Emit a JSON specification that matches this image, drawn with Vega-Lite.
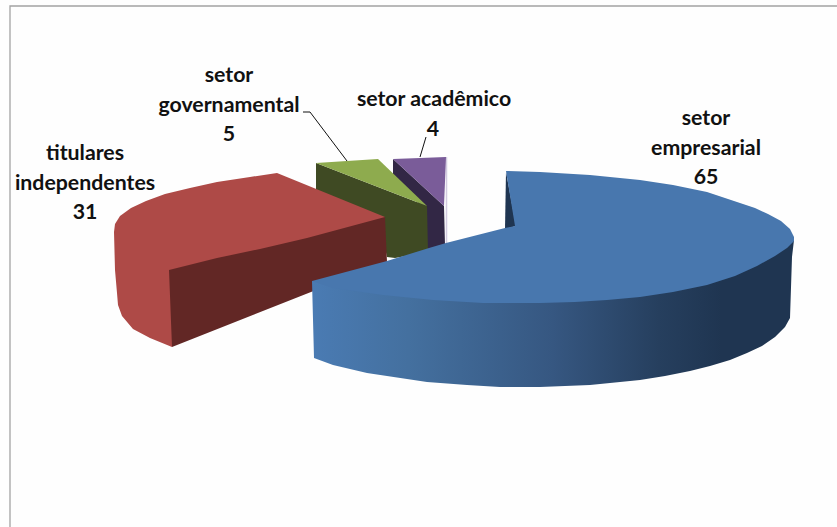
{
  "$schema": "https://vega.github.io/schema/vega-lite/v6.json",
  "width": 837,
  "height": 527,
  "padding": 0,
  "autosize": "none",
  "background": "#fefefe",
  "view": {"stroke": null},
  "datasets": {
    "frame": [
      {"seq": 1, "x": 10, "y": 527},
      {"seq": 2, "x": 10, "y": 6},
      {"seq": 3, "x": 837, "y": 6}
    ],
    "faces": [
      {"face": "academico-corte", "slice": "setor acadêmico", "value": 4, "seq": 1, "x": 393, "y": 159},
      {"face": "academico-corte", "slice": "setor acadêmico", "value": 4, "seq": 2, "x": 444, "y": 206},
      {"face": "academico-corte", "slice": "setor acadêmico", "value": 4, "seq": 3, "x": 445, "y": 245},
      {"face": "academico-corte", "slice": "setor acadêmico", "value": 4, "seq": 4, "x": 426, "y": 251},
      {"face": "academico-corte", "slice": "setor acadêmico", "value": 4, "seq": 5, "x": 426, "y": 211},
      {"face": "academico-corte", "slice": "setor acadêmico", "value": 4, "seq": 6, "x": 393, "y": 178},
      {"face": "academico-topo", "slice": "setor acadêmico", "value": 4, "seq": 7, "x": 393, "y": 159},
      {"face": "academico-topo", "slice": "setor acadêmico", "value": 4, "seq": 8, "x": 420, "y": 158},
      {"face": "academico-topo", "slice": "setor acadêmico", "value": 4, "seq": 9, "x": 446, "y": 157},
      {"face": "academico-topo", "slice": "setor acadêmico", "value": 4, "seq": 10, "x": 444, "y": 206},
      {"face": "governamental-corte", "slice": "setor governamental", "value": 5, "seq": 11, "x": 316, "y": 163},
      {"face": "governamental-corte", "slice": "setor governamental", "value": 5, "seq": 12, "x": 427, "y": 206},
      {"face": "governamental-corte", "slice": "setor governamental", "value": 5, "seq": 13, "x": 428, "y": 252},
      {"face": "governamental-corte", "slice": "setor governamental", "value": 5, "seq": 14, "x": 395, "y": 258},
      {"face": "governamental-corte", "slice": "setor governamental", "value": 5, "seq": 15, "x": 387, "y": 257},
      {"face": "governamental-corte", "slice": "setor governamental", "value": 5, "seq": 16, "x": 380, "y": 225},
      {"face": "governamental-corte", "slice": "setor governamental", "value": 5, "seq": 17, "x": 316, "y": 196},
      {"face": "governamental-topo", "slice": "setor governamental", "value": 5, "seq": 18, "x": 316, "y": 163},
      {"face": "governamental-topo", "slice": "setor governamental", "value": 5, "seq": 19, "x": 347, "y": 161},
      {"face": "governamental-topo", "slice": "setor governamental", "value": 5, "seq": 20, "x": 378, "y": 159},
      {"face": "governamental-topo", "slice": "setor governamental", "value": 5, "seq": 21, "x": 427, "y": 206},
      {"face": "titulares-lado", "slice": "titulares independentes", "value": 31, "seq": 22, "x": 277, "y": 173},
      {"face": "titulares-lado", "slice": "titulares independentes", "value": 31, "seq": 23, "x": 250, "y": 177},
      {"face": "titulares-lado", "slice": "titulares independentes", "value": 31, "seq": 24, "x": 217, "y": 182},
      {"face": "titulares-lado", "slice": "titulares independentes", "value": 31, "seq": 25, "x": 190, "y": 188},
      {"face": "titulares-lado", "slice": "titulares independentes", "value": 31, "seq": 26, "x": 165, "y": 194},
      {"face": "titulares-lado", "slice": "titulares independentes", "value": 31, "seq": 27, "x": 146, "y": 201},
      {"face": "titulares-lado", "slice": "titulares independentes", "value": 31, "seq": 28, "x": 131, "y": 208},
      {"face": "titulares-lado", "slice": "titulares independentes", "value": 31, "seq": 29, "x": 120, "y": 216},
      {"face": "titulares-lado", "slice": "titulares independentes", "value": 31, "seq": 30, "x": 115, "y": 224},
      {"face": "titulares-lado", "slice": "titulares independentes", "value": 31, "seq": 31, "x": 114, "y": 232},
      {"face": "titulares-lado", "slice": "titulares independentes", "value": 31, "seq": 32, "x": 115, "y": 270},
      {"face": "titulares-lado", "slice": "titulares independentes", "value": 31, "seq": 33, "x": 117, "y": 293},
      {"face": "titulares-lado", "slice": "titulares independentes", "value": 31, "seq": 34, "x": 118, "y": 305},
      {"face": "titulares-lado", "slice": "titulares independentes", "value": 31, "seq": 35, "x": 122, "y": 316},
      {"face": "titulares-lado", "slice": "titulares independentes", "value": 31, "seq": 36, "x": 133, "y": 329},
      {"face": "titulares-lado", "slice": "titulares independentes", "value": 31, "seq": 37, "x": 150, "y": 338},
      {"face": "titulares-lado", "slice": "titulares independentes", "value": 31, "seq": 38, "x": 172, "y": 347},
      {"face": "titulares-lado", "slice": "titulares independentes", "value": 31, "seq": 39, "x": 175, "y": 275},
      {"face": "titulares-lado", "slice": "titulares independentes", "value": 31, "seq": 40, "x": 385, "y": 225},
      {"face": "titulares-lado", "slice": "titulares independentes", "value": 31, "seq": 41, "x": 385, "y": 217},
      {"face": "titulares-corte", "slice": "titulares independentes", "value": 31, "seq": 42, "x": 169, "y": 270},
      {"face": "titulares-corte", "slice": "titulares independentes", "value": 31, "seq": 43, "x": 217, "y": 258},
      {"face": "titulares-corte", "slice": "titulares independentes", "value": 31, "seq": 44, "x": 260, "y": 249},
      {"face": "titulares-corte", "slice": "titulares independentes", "value": 31, "seq": 45, "x": 307, "y": 238},
      {"face": "titulares-corte", "slice": "titulares independentes", "value": 31, "seq": 46, "x": 385, "y": 217},
      {"face": "titulares-corte", "slice": "titulares independentes", "value": 31, "seq": 47, "x": 387, "y": 262},
      {"face": "titulares-corte", "slice": "titulares independentes", "value": 31, "seq": 48, "x": 172, "y": 347},
      {"face": "empresarial-entalhe", "slice": "setor empresarial", "value": 65, "seq": 49, "x": 506, "y": 172},
      {"face": "empresarial-entalhe", "slice": "setor empresarial", "value": 65, "seq": 50, "x": 516, "y": 226},
      {"face": "empresarial-entalhe", "slice": "setor empresarial", "value": 65, "seq": 51, "x": 505, "y": 229}
    ],
    "purpleEdge": [
      {"slice": "setor acadêmico", "seq": 1, "x": 446.5, "y": 157},
      {"slice": "setor acadêmico", "seq": 2, "x": 446.5, "y": 245}
    ],
    "blueSide": [
      {"slice": "setor empresarial", "value": 65, "seq": 1, "x": 312, "y": 281},
      {"slice": "setor empresarial", "value": 65, "seq": 2, "x": 314, "y": 358},
      {"slice": "setor empresarial", "value": 65, "seq": 3, "x": 333, "y": 365},
      {"slice": "setor empresarial", "value": 65, "seq": 4, "x": 367, "y": 373},
      {"slice": "setor empresarial", "value": 65, "seq": 5, "x": 427, "y": 382},
      {"slice": "setor empresarial", "value": 65, "seq": 6, "x": 467, "y": 385},
      {"slice": "setor empresarial", "value": 65, "seq": 7, "x": 500, "y": 387},
      {"slice": "setor empresarial", "value": 65, "seq": 8, "x": 540, "y": 387},
      {"slice": "setor empresarial", "value": 65, "seq": 9, "x": 590, "y": 385},
      {"slice": "setor empresarial", "value": 65, "seq": 10, "x": 640, "y": 380},
      {"slice": "setor empresarial", "value": 65, "seq": 11, "x": 665, "y": 376},
      {"slice": "setor empresarial", "value": 65, "seq": 12, "x": 690, "y": 371},
      {"slice": "setor empresarial", "value": 65, "seq": 13, "x": 710, "y": 366},
      {"slice": "setor empresarial", "value": 65, "seq": 14, "x": 730, "y": 360},
      {"slice": "setor empresarial", "value": 65, "seq": 15, "x": 747, "y": 353},
      {"slice": "setor empresarial", "value": 65, "seq": 16, "x": 762, "y": 346},
      {"slice": "setor empresarial", "value": 65, "seq": 17, "x": 775, "y": 337},
      {"slice": "setor empresarial", "value": 65, "seq": 18, "x": 785, "y": 327},
      {"slice": "setor empresarial", "value": 65, "seq": 19, "x": 790, "y": 318},
      {"slice": "setor empresarial", "value": 65, "seq": 20, "x": 792, "y": 257},
      {"slice": "setor empresarial", "value": 65, "seq": 21, "x": 794, "y": 240},
      {"slice": "setor empresarial", "value": 65, "seq": 22, "x": 560, "y": 280}
    ],
    "blueTop": [
      {"slice": "setor empresarial", "value": 65, "seq": 1, "x": 506, "y": 171},
      {"slice": "setor empresarial", "value": 65, "seq": 2, "x": 515, "y": 226},
      {"slice": "setor empresarial", "value": 65, "seq": 3, "x": 505, "y": 228},
      {"slice": "setor empresarial", "value": 65, "seq": 4, "x": 446, "y": 243},
      {"slice": "setor empresarial", "value": 65, "seq": 5, "x": 429, "y": 248},
      {"slice": "setor empresarial", "value": 65, "seq": 6, "x": 387, "y": 261},
      {"slice": "setor empresarial", "value": 65, "seq": 7, "x": 312, "y": 281},
      {"slice": "setor empresarial", "value": 65, "seq": 8, "x": 333, "y": 288},
      {"slice": "setor empresarial", "value": 65, "seq": 9, "x": 383, "y": 295},
      {"slice": "setor empresarial", "value": 65, "seq": 10, "x": 433, "y": 300},
      {"slice": "setor empresarial", "value": 65, "seq": 11, "x": 483, "y": 303},
      {"slice": "setor empresarial", "value": 65, "seq": 12, "x": 540, "y": 303},
      {"slice": "setor empresarial", "value": 65, "seq": 13, "x": 575, "y": 302},
      {"slice": "setor empresarial", "value": 65, "seq": 14, "x": 607, "y": 300},
      {"slice": "setor empresarial", "value": 65, "seq": 15, "x": 640, "y": 297},
      {"slice": "setor empresarial", "value": 65, "seq": 16, "x": 673, "y": 292},
      {"slice": "setor empresarial", "value": 65, "seq": 17, "x": 707, "y": 285},
      {"slice": "setor empresarial", "value": 65, "seq": 18, "x": 735, "y": 276},
      {"slice": "setor empresarial", "value": 65, "seq": 19, "x": 757, "y": 266},
      {"slice": "setor empresarial", "value": 65, "seq": 20, "x": 775, "y": 256},
      {"slice": "setor empresarial", "value": 65, "seq": 21, "x": 787, "y": 248},
      {"slice": "setor empresarial", "value": 65, "seq": 22, "x": 794, "y": 241},
      {"slice": "setor empresarial", "value": 65, "seq": 23, "x": 794, "y": 237},
      {"slice": "setor empresarial", "value": 65, "seq": 24, "x": 790, "y": 229},
      {"slice": "setor empresarial", "value": 65, "seq": 25, "x": 781, "y": 221},
      {"slice": "setor empresarial", "value": 65, "seq": 26, "x": 768, "y": 214},
      {"slice": "setor empresarial", "value": 65, "seq": 27, "x": 755, "y": 208},
      {"slice": "setor empresarial", "value": 65, "seq": 28, "x": 740, "y": 203},
      {"slice": "setor empresarial", "value": 65, "seq": 29, "x": 707, "y": 192},
      {"slice": "setor empresarial", "value": 65, "seq": 30, "x": 673, "y": 185},
      {"slice": "setor empresarial", "value": 65, "seq": 31, "x": 640, "y": 180},
      {"slice": "setor empresarial", "value": 65, "seq": 32, "x": 590, "y": 175},
      {"slice": "setor empresarial", "value": 65, "seq": 33, "x": 540, "y": 172}
    ],
    "leaders": [
      {"slice": "setor governamental", "seq": 1, "x": 303, "y": 112},
      {"slice": "setor governamental", "seq": 2, "x": 310, "y": 112},
      {"slice": "setor governamental", "seq": 3, "x": 347, "y": 161},
      {"slice": "setor acadêmico", "seq": 1, "x": 426, "y": 137},
      {"slice": "setor acadêmico", "seq": 2, "x": 420, "y": 157}
    ],
    "labels": [
      {"text": "titulares", "x": 85, "y": 154},
      {"text": "independentes", "x": 85, "y": 184},
      {"text": "31", "x": 85, "y": 213},
      {"text": "setor", "x": 229, "y": 76},
      {"text": "governamental", "x": 229, "y": 106},
      {"text": "5", "x": 229, "y": 135},
      {"text": "setor acadêmico", "x": 434, "y": 100},
      {"text": "4", "x": 433, "y": 130},
      {"text": "setor", "x": 706, "y": 119},
      {"text": "empresarial", "x": 706, "y": 149},
      {"text": "65", "x": 706, "y": 178}
    ]
  },
  "encoding": {
    "x": {"field": "x", "type": "quantitative", "axis": null, "scale": {"domain": [0, 837], "nice": false, "zero": false}},
    "y": {"field": "y", "type": "quantitative", "axis": null, "scale": {"domain": [527, 0], "nice": false, "zero": false}}
  },
  "layer": [
    {
      "data": {"name": "frame"},
      "mark": {"type": "line", "stroke": "#a3a3a3", "strokeWidth": 1.3},
      "encoding": {"order": {"field": "seq", "type": "quantitative"}}
    },
    {
      "data": {"name": "purpleEdge"},
      "mark": {"type": "line", "stroke": "#d3cbe0", "strokeWidth": 1.5},
      "encoding": {"order": {"field": "seq", "type": "quantitative"}}
    },
    {
      "data": {"name": "faces"},
      "mark": {"type": "line", "strokeWidth": 0},
      "encoding": {
        "order": {"field": "seq", "type": "quantitative"},
        "fill": {
          "field": "face",
          "type": "nominal",
          "legend": null,
          "scale": {
            "domain": ["academico-corte", "academico-topo", "governamental-corte", "governamental-topo", "titulares-lado", "titulares-corte", "empresarial-entalhe"],
            "range": ["#322745", "#7A5C99", "#3F4A23", "#8EAB4E", "#AE4A47", "#622725", "#1F3551"]
          }
        }
      }
    },
    {
      "data": {"name": "blueSide"},
      "mark": {
        "type": "line",
        "strokeWidth": 0,
        "fill": {
          "gradient": "linear",
          "x1": 0, "y1": 0, "x2": 1, "y2": 0,
          "stops": [
            {"offset": 0, "color": "#4A7BB3"},
            {"offset": 0.2, "color": "#44709F"},
            {"offset": 0.5, "color": "#365781"},
            {"offset": 0.72, "color": "#263F5E"},
            {"offset": 0.85, "color": "#1F3551"},
            {"offset": 1, "color": "#1F3551"}
          ]
        }
      },
      "encoding": {"order": {"field": "seq", "type": "quantitative"}}
    },
    {
      "data": {"name": "blueTop"},
      "mark": {"type": "line", "strokeWidth": 0, "fill": "#4877AE"},
      "encoding": {"order": {"field": "seq", "type": "quantitative"}}
    },
    {
      "data": {"name": "leaders"},
      "mark": {"type": "line", "stroke": "#111111", "strokeWidth": 1},
      "encoding": {
        "detail": {"field": "slice"},
        "order": {"field": "seq", "type": "quantitative"}
      }
    },
    {
      "data": {"name": "labels"},
      "mark": {"type": "text", "font": "Lato", "fontWeight": "bold", "fontSize": 21.3, "align": "center", "baseline": "middle", "color": "#111111"},
      "encoding": {"text": {"field": "text"}}
    }
  ]
}
